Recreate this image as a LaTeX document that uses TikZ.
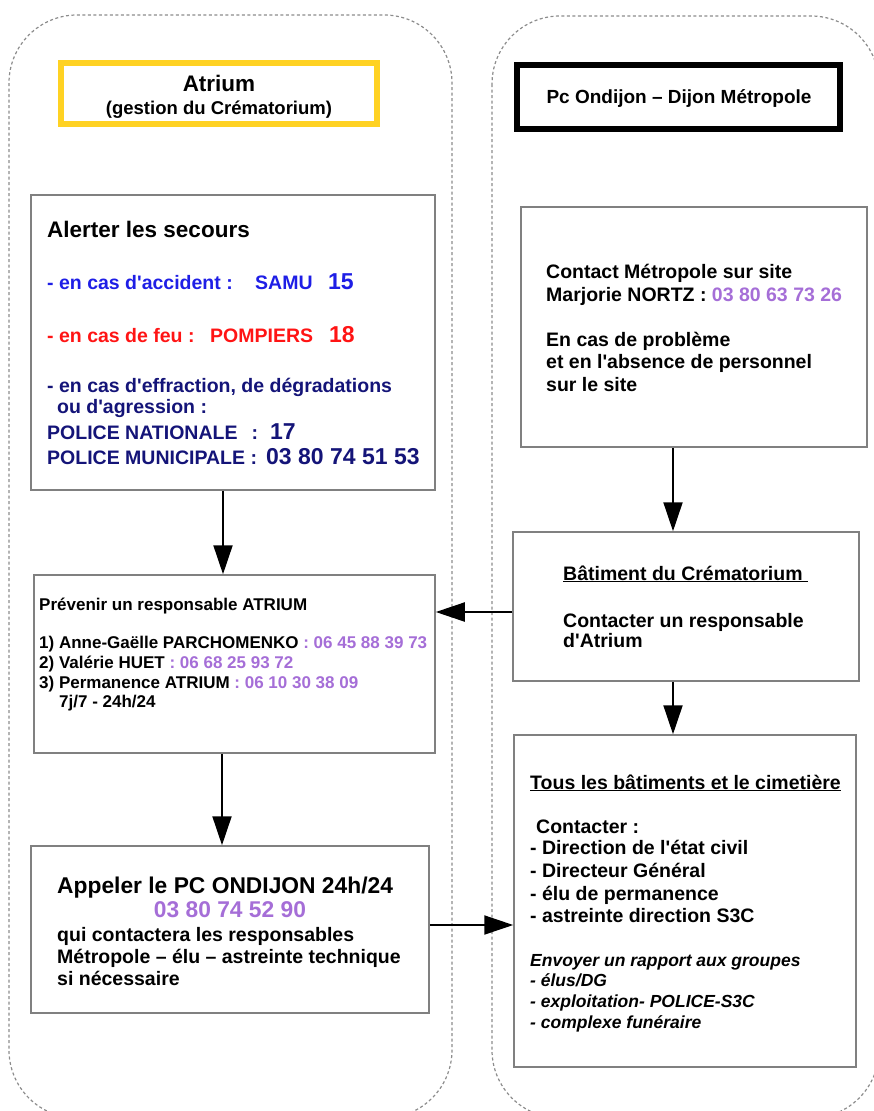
\documentclass[tikz,border=0pt]{standalone}
\usepackage{fontspec}
\newfontfamily\arialfont{Liberation Sans}
\usetikzlibrary{arrows.meta,fit}
\definecolor{boxgray}{RGB}{128,128,128}
\definecolor{dashgray}{RGB}{140,140,140}
\definecolor{atriumyellow}{RGB}{255,210,35}
\definecolor{alertblue}{RGB}{30,30,230}
\definecolor{alertred}{RGB}{255,20,20}
\definecolor{navy}{RGB}{20,20,120}
\definecolor{phone}{RGB}{165,110,215}
\newcommand\fsz[1]{\fontsize{#1}{#1}\selectfont}
\tikzset{
  zone/.style={draw=dashgray, dash pattern=on 3pt off 2.5pt, line width=1.2pt, rounded corners=68pt},
  box/.style={draw=boxgray, line width=1.5pt, inner sep=0pt},
  titlebox/.style={line width=6pt, inner sep=0pt},
  title/.style={anchor=base, inner sep=0pt, font=\arialfont\bfseries\fsz{19}},
  txt/.style={anchor=base west, inner sep=0pt, font=\arialfont\bfseries\fsz{19.5}},
  small/.style={font=\arialfont\bfseries\fsz{17}},
  num/.style={font=\arialfont\bfseries\fsz{23}},
  report/.style={font=\arialfont\bfseries\itshape\fsz{17.5}},
  arrow/.style={->, line width=2pt},
}
\begin{document}
\begin{tikzpicture}[x=1pt,y=-1pt,>={Triangle[length=29pt,width=19pt]}]
  \useasboundingbox (0,0) rectangle (874,1111);
  \clip (0,0) rectangle (874,1111);
  \draw[zone] (9,15) rectangle (452,1118);
  \draw[zone] (492,16) rectangle (879,1118);

  \node[titlebox, draw=atriumyellow, fit={(61,63) (377,124)}] (atrium) {};
  \node[titlebox, draw=black, line width=6.5pt, fit={(517,65) (840,129)}] (pcondijon) {};
  \node[box, fit={(31,195) (435,490)}] (alerter) {};
  \node[box, fit={(34,575) (435,753)}] (prevenir) {};
  \node[box, fit={(31,846) (429,1013)}] (appeler) {};
  \node[box, fit={(521,207) (867,447)}] (contact) {};
  \node[box, fit={(513,532) (859,681)}] (batiment) {};
  \node[box, fit={(514,735) (856,1067)}] (tous) {};

  \node[title, font=\arialfont\bfseries\fsz{22.5}] (atriumName) at (219,91) {Atrium};
  \node[title, font=\arialfont\bfseries\fsz{18.5}] (atriumSub) at (219,114) {(gestion du Crématorium)};
  \node[title] (pcName) at (679,103) {Pc Ondijon – Dijon Métropole};

  \node[txt, font=\arialfont\bfseries\fsz{22.5}] (alerterTitle) at (47,237) {Alerter les secours};
  \node[txt, text=alertblue] (accident) at (47,289) {- en cas d'accident :};
  \node[txt, text=alertblue] (samu) at (255,289) {SAMU};
  \node[txt, num, text=alertblue] (samuNum) at (328,289) {15};
  \node[txt, text=alertred] (feu) at (47,342) {- en cas de feu :};
  \node[txt, text=alertred] (pompiers) at (210,342) {POMPIERS};
  \node[txt, num, text=alertred] (pompiersNum) at (329,342) {18};
  \node[txt, text=navy] (effraction) at (47,392) {- en cas d'effraction, de dégradations};
  \node[txt, text=navy] (agression) at (57,413) {ou d'agression :};
  \node[txt, text=navy] (nationale) at (47,439) {POLICE NATIONALE\hspace{14pt}:};
  \node[txt, num, text=navy] (nationaleNum) at (270,439) {17};
  \node[txt, text=navy] (municipale) at (47,464) {POLICE MUNICIPALE :};
  \node[txt, num, text=navy] (municipaleNum) at (266,464) {03 80 74 51 53};

  \node[txt, small] (prevenirTitle) at (39,610) {Prévenir un responsable ATRIUM};
  \node[txt, small] (resp1) at (39,648) {1) Anne-Gaëlle PARCHOMENKO \textcolor{phone}{: 06 45 88 39 73}};
  \node[txt, small] (resp2) at (39,668) {2) Valérie HUET \textcolor{phone}{: 06 68 25 93 72}};
  \node[txt, small] (resp3) at (39,688) {3) Permanence ATRIUM \textcolor{phone}{: 06 10 30 38 09}};
  \node[txt, small] (permanence) at (59,707) {7j/7 - 24h/24};

  \node[txt, font=\arialfont\bfseries\fsz{22.8}] (appelerTitle) at (57,893) {Appeler le PC ONDIJON 24h/24};
  \node[title, font=\arialfont\bfseries\fsz{22.8}, text=phone] (appelerNum) at (230,917) {03 80 74 52 90};
  \node[txt] (qui) at (57,941) {qui contactera les responsables};
  \node[txt] (metropole) at (57,963) {Métropole – élu – astreinte technique};
  \node[txt] (necessaire) at (57,985) {si nécessaire};

  \node[txt] (contactTitle) at (546,278) {Contact Métropole sur site};
  \node[txt] (nortz) at (546,301) {Marjorie NORTZ : \textcolor{phone}{03 80 63 73 26}};
  \node[txt] (probleme) at (546,346) {En cas de problème};
  \node[txt] (absence) at (546,368) {et en l'absence de personnel};
  \node[txt] (site) at (546,391) {sur le site};

  \node[txt] (batimentTitle) at (563,580) {\underline{Bâtiment du Crématorium\ }};
  \node[txt] (contacterResp) at (563,627) {Contacter un responsable};
  \node[txt] (datrium) at (563,647) {d'Atrium};

  \node[txt] (tousTitle) at (530,789) {\underline{Tous les bâtiments et le cimetière}};
  \node[txt] (contacter) at (536,833) {Contacter :};
  \node[txt] (etatCivil) at (530,854) {- Direction de l'état civil};
  \node[txt] (directeur) at (530,877) {- Directeur Général};
  \node[txt] (elu) at (530,900) {- élu de permanence};
  \node[txt] (astreinte) at (530,922) {- astreinte direction S3C};
  \node[txt, report] (rapport) at (530,966) {Envoyer un rapport aux groupes};
  \node[txt, report] (elusDG) at (530,986) {- élus/DG};
  \node[txt, report] (exploitation) at (530,1007) {- exploitation- POLICE-S3C};
  \node[txt, report] (funeraire) at (530,1028) {- complexe funéraire};

  \draw[arrow] (alerter.south -| 223,0) -- (prevenir.north -| 223,0);
  \draw[arrow] (prevenir.south -| 222,0) -- (appeler.north -| 222,0);
  \draw[arrow] (contact.south -| 673,0) -- (batiment.north -| 673,0);
  \draw[arrow] (batiment.south -| 673,0) -- (tous.north -| 673,0);
  \draw[arrow] (batiment.west |- 0,612) -- (prevenir.east |- 0,612);
  \draw[arrow] (appeler.east |- 0,925) -- (tous.west |- 0,925);
\end{tikzpicture}
\end{document}
